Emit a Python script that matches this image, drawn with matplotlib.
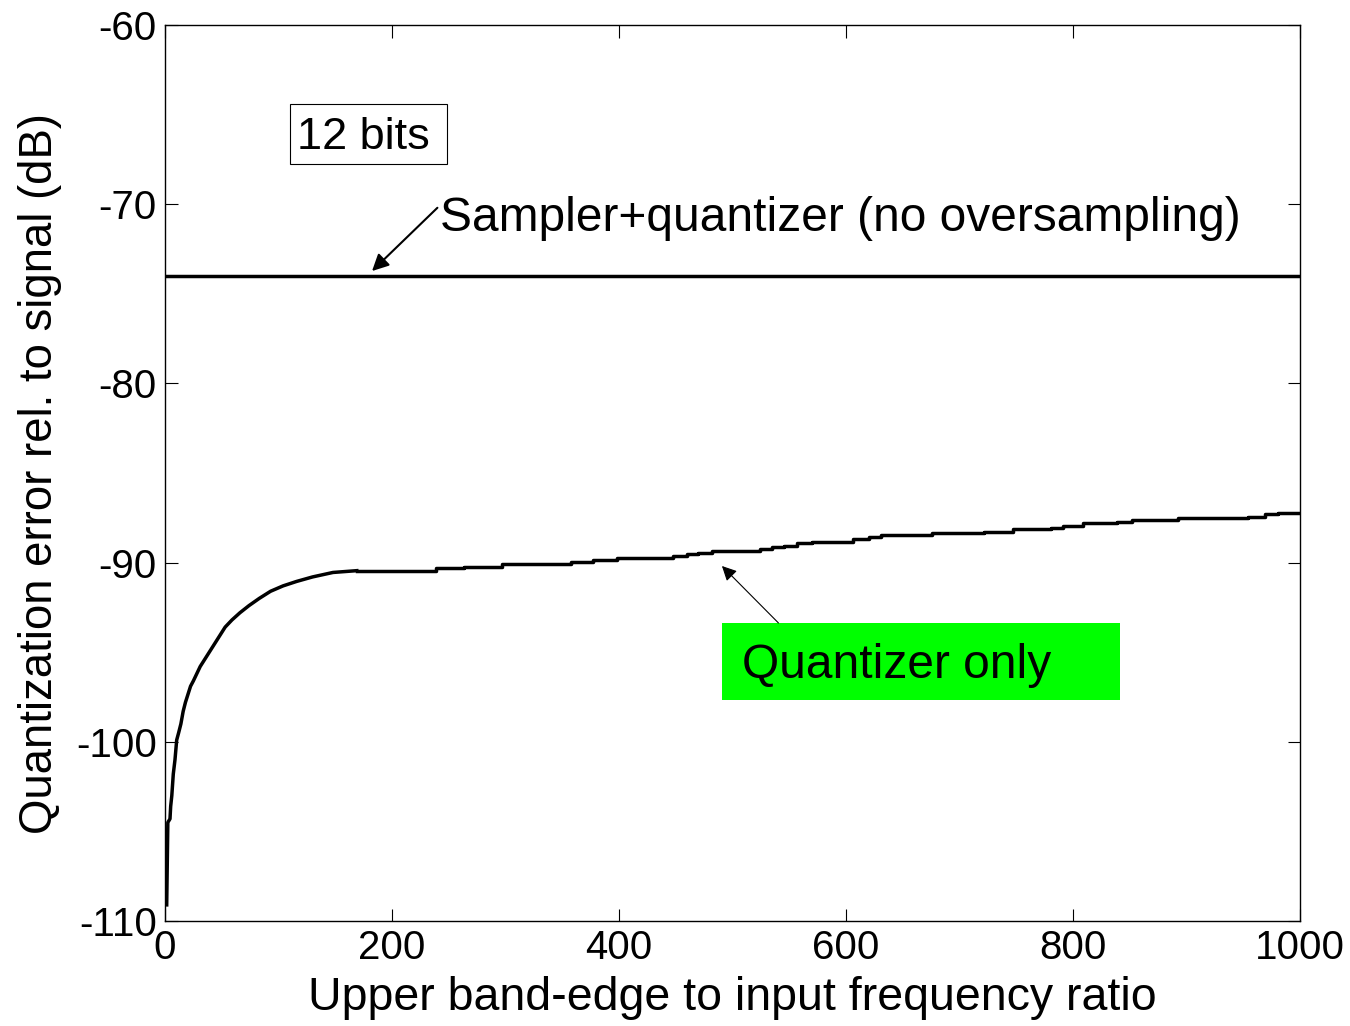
import matplotlib
matplotlib.use("Agg")
import matplotlib.pyplot as plt
from matplotlib.patches import Rectangle

plt.rcParams['font.family'] = ['Liberation Sans', 'DejaVu Sans']
plt.rcParams['axes.unicode_minus'] = False

# Quantizer-only curve: smooth rise then staircase
ratio_q = [1.5, 2.5, 4.4, 5, 6, 7.3, 8.8, 10.3, 12, 14, 16, 18, 20, 22.5, 25, 28, 31, 34,
           38, 42, 47, 53, 59, 66, 74, 83, 93, 104, 116, 130, 148, 169, 239, 263, 297,
           358, 377, 398, 448, 460, 470, 482, 524, 534.5, 545, 556.5, 570, 606, 620, 631,
           675.5, 722, 747, 781, 791, 809, 838.5, 851.7, 892.5, 954, 969, 981, 1000]
err_q = [-109.1, -104.5, -104.3, -103.6, -103.0, -101.8, -101.0, -99.9, -99.5, -99.0, -98.3,
         -97.8, -97.4, -96.9, -96.6, -96.2, -95.8, -95.5, -95.1, -94.7, -94.2, -93.6, -93.2,
         -92.8, -92.4, -92.0, -91.6, -91.3, -91.05, -90.8, -90.55, -90.45, -90.32, -90.23,
         -90.08, -89.95, -89.86, -89.77, -89.62, -89.54, -89.45, -89.35, -89.26, -89.15,
         -89.06, -88.93, -88.85, -88.70, -88.55, -88.46, -88.33, -88.27, -88.14, -88.05,
         -87.96, -87.81, -87.72, -87.62, -87.53, -87.44, -87.31, -87.21, -87.21]
smooth_end = 169  # ratio where the curve turns into visible steps

# Sampler+quantizer (no oversampling)
ratio_s = [0, 1000]
err_s = [-74.0, -74.0]

xticks = [0, 200, 400, 600, 800, 1000]
yticks = [-110, -100, -90, -80, -70, -60]

fig = plt.figure(figsize=(13.5, 10.26), dpi=100)
ax = fig.add_axes([165/1350, 105/1026, 1135/1350, 896/1026])

ax.plot(ratio_s, err_s, color='black', lw=2.5)
i0 = ratio_q.index(smooth_end)
ax.plot(ratio_q[:i0 + 1], err_q[:i0 + 1], color='black', lw=2.5, solid_joinstyle='round')
ax.plot(ratio_q[i0:], err_q[i0:], color='black', lw=2.5, drawstyle='steps-post')

ax.set_xlim(0, 1000)
ax.set_ylim(-110, -60)
ax.set_xticks(xticks)
ax.set_yticks(yticks)
ax.tick_params(direction='in', length=9, width=0.8, top=True, right=True,
               labelsize=29, pad=6)
for s in ax.spines.values():
    s.set_linewidth(1.0)
    s.set_color('black')

ax.set_xlabel('Upper band-edge to input frequency ratio', fontsize=33.5, labelpad=6)
ax.set_ylabel('Quantization error rel. to signal (dB)', fontsize=32.8, labelpad=10)

# 12 bits box
ax.add_patch(Rectangle((110.1, -67.76), 138.4, 3.35, facecolor='white',
                       edgecolor='black', lw=0.8, zorder=3))
ax.text(116.3, -66.3, '12 bits', fontsize=32.5, va='center', ha='left', zorder=4)

# Sampler annotation
ax.text(242.3, -70.8, 'Sampler+quantizer (no oversampling)', fontsize=34.5,
        va='center', ha='left')
ax.annotate('', xy=(182.4, -73.73), xytext=(240.0, -70.2),
            arrowprops=dict(arrowstyle='-|>', color='black', lw=1.5, mutation_scale=25,
                            shrinkA=0, shrinkB=0))

# Quantizer only annotation
ax.add_patch(Rectangle((490.7, -97.67), 350.7, 4.30, facecolor='#00ff00', edgecolor='none', zorder=3))
ax.text(508.4, -95.75, 'Quantizer only', fontsize=34.5, va='center', ha='left', zorder=4)
ax.annotate('', xy=(490.7, -90.19), xytext=(540.5, -93.37),
            arrowprops=dict(arrowstyle='-|>', color='black', lw=0.8, mutation_scale=22,
                            shrinkA=0, shrinkB=0))

fig.savefig('out.png', dpi=100)
